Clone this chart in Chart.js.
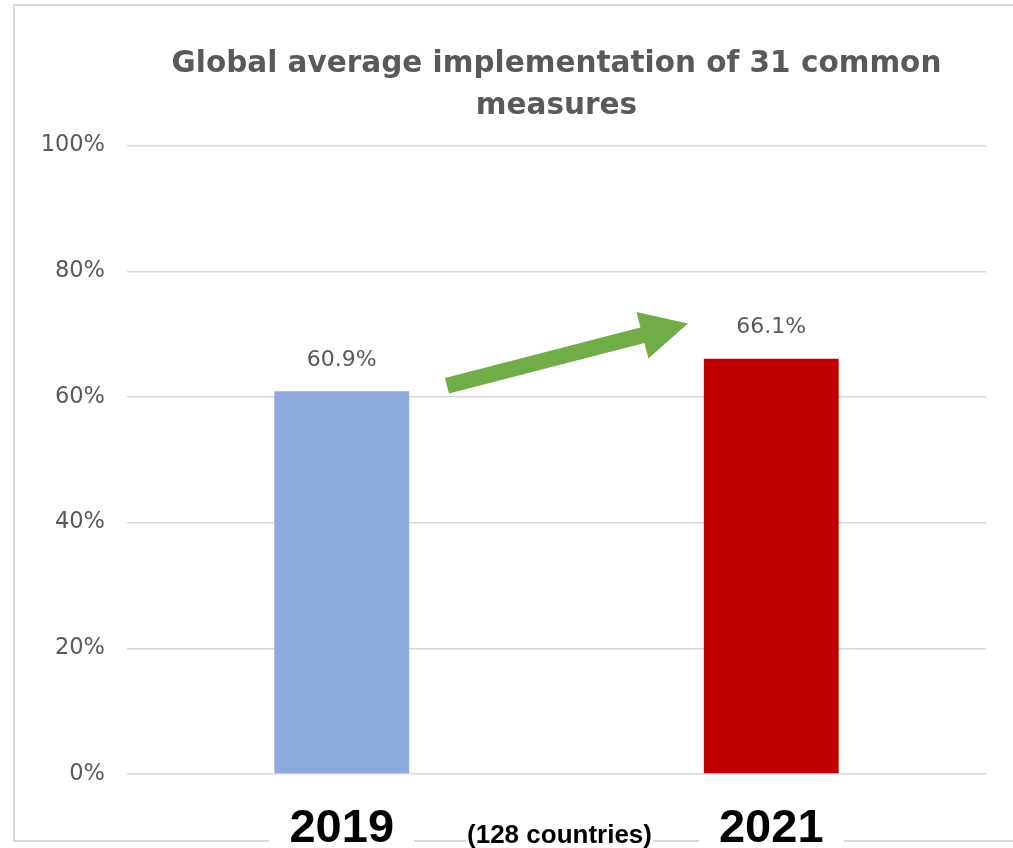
<!DOCTYPE html>
<html lang="en">
<head>
  <meta charset="UTF-8" />
  <title>Global average implementation of 31 common measures</title>
  <script src="https://cdn.jsdelivr.net/npm/chart.js"></script>
  <style>
    html, body {
      margin: 0;
      padding: 0;
      background: #ffffff;
    }
    .chart-container {
      width: 1013px;
      height: 848px;
      position: relative;
    }
  </style>
</head>
<body>
  <div class="chart-container">
    <canvas id="measuresChart"></canvas>
  </div>

  <script>
    // Data
    const years = ['2019', '2021'];
    const implementation = [60.9, 66.1];
    const barColors = ['#8FAADC', '#C00000'];
    const titleLines = ['Global average implementation of 31 common', 'measures'];
    const note = '(128 countries)';

    // Light frame round the picture (bottom edge hidden behind the year labels)
    const framePlugin = {
      id: 'frame',
      beforeDraw(chart) {
        const ctx = chart.ctx;
        ctx.save();
        ctx.strokeStyle = '#D9D9D9';
        ctx.lineWidth = 2;
        ctx.beginPath();
        ctx.moveTo(chart.width, 5);
        ctx.lineTo(14, 5);
        ctx.lineTo(14, 841);
        ctx.lineTo(chart.width, 841);
        ctx.stroke();
        ctx.restore();
      }
    };

    // Value labels above each bar
    const valueLabels = {
      id: 'valueLabels',
      afterDatasetsDraw(chart) {
        const ctx = chart.ctx;
        const meta = chart.getDatasetMeta(0);
        ctx.save();
        ctx.font = '22px "DejaVu Sans"';
        ctx.fillStyle = '#595959';
        ctx.textAlign = 'center';
        ctx.textBaseline = 'middle';
        meta.data.forEach((bar, i) => {
          ctx.fillText(implementation[i].toFixed(1) + '%', bar.x, bar.y - 31);
        });
        ctx.restore();
      }
    };

    // Green arrow from the 2019 bar up towards the 2021 bar
    const arrowPlugin = {
      id: 'arrow',
      afterDatasetsDraw(chart, args, opts) {
        const xs = chart.scales.x, ys = chart.scales.y;
        const step = xs.getPixelForValue(1) - xs.getPixelForValue(0);
        const px = v => xs.getPixelForValue(0) + v * step;
        const x1 = px(opts.from[0]), y1 = ys.getPixelForValue(opts.from[1]);
        const x2 = px(opts.to[0]), y2 = ys.getPixelForValue(opts.to[1]);
        const dx = x2 - x1, dy = y2 - y1;
        const len = Math.hypot(dx, dy);
        const ux = dx / len, uy = dy / len;
        const nx = -uy, ny = ux;
        const sw = 8, hw = 24, hl = 47;
        const bx = x2 - ux * hl, by = y2 - uy * hl;
        const ctx = chart.ctx;
        ctx.save();
        ctx.fillStyle = '#70AD47';
        ctx.beginPath();
        ctx.moveTo(x1 + nx * sw, y1 + ny * sw);
        ctx.lineTo(bx + nx * sw, by + ny * sw);
        ctx.lineTo(bx + nx * hw, by + ny * hw);
        ctx.lineTo(x2, y2);
        ctx.lineTo(bx - nx * hw, by - ny * hw);
        ctx.lineTo(bx - nx * sw, by - ny * sw);
        ctx.lineTo(x1 - nx * sw, y1 - ny * sw);
        ctx.closePath();
        ctx.fill();
        ctx.restore();
      }
    };

    // Big year labels and the country note, on white boxes over the frame
    const yearLabels = {
      id: 'yearLabels',
      afterDraw(chart) {
        const ctx = chart.ctx;
        const xs = chart.scales.x;
        ctx.save();
        ctx.textAlign = 'center';
        ctx.textBaseline = 'alphabetic';
        ctx.font = 'bold 47px "Liberation Sans", Arial, sans-serif';
        years.forEach((y, i) => {
          const x = xs.getPixelForValue(i);
          const w = ctx.measureText(y).width + 40;
          ctx.fillStyle = '#ffffff';
          ctx.fillRect(x - w / 2, 800, w, 48);
          ctx.fillStyle = '#000000';
          ctx.fillText(y, x, 842);
        });
        ctx.font = 'bold 26px "Liberation Sans", Arial, sans-serif';
        const mid = (xs.getPixelForValue(0) + xs.getPixelForValue(1)) / 2 + 3;
        const nw = ctx.measureText(note).width + 2;
        ctx.fillStyle = '#ffffff';
        ctx.fillRect(mid - nw / 2, 815, nw, 33);
        ctx.fillStyle = '#000000';
        ctx.fillText(note, mid, 843);
        ctx.restore();
      }
    };

    new Chart(document.getElementById('measuresChart').getContext('2d'), {
      type: 'bar',
      data: {
        labels: years,
        datasets: [{
          data: implementation,
          backgroundColor: barColors,
          borderWidth: 0,
          categoryPercentage: 1,
          barPercentage: 0.314
        }]
      },
      options: {
        responsive: true,
        maintainAspectRatio: false,
        animation: false,
        layout: { padding: { left: 0, right: 27, top: 0, bottom: 66 } },
        scales: {
          x: {
            grid: { display: false },
            border: { display: false },
            ticks: { display: false }
          },
          y: {
            min: 0,
            max: 100,
            afterFit(scale) { scale.width = 127; },
            ticks: {
              stepSize: 20,
              padding: 22,
              color: '#595959',
              font: { family: 'DejaVu Sans', size: 22.5 },
              callback: v => v + '%'
            },
            grid: { color: '#D9D9D9', lineWidth: 1.5, drawTicks: false },
            border: { display: false }
          }
        },
        plugins: {
          legend: { display: false },
          tooltip: { enabled: false },
          title: {
            display: true,
            fullSize: false,
            text: titleLines,
            color: '#595959',
            font: { family: 'DejaVu Sans', size: 29.5, weight: 'bold', lineHeight: 1.4 },
            padding: { top: 44, bottom: 19 }
          },
          arrow: { from: [0.245, 61.8], to: [0.806, 71.7] }
        }
      },
      plugins: [framePlugin, valueLabels, arrowPlugin, yearLabels]
    });
  </script>
</body>
</html>
